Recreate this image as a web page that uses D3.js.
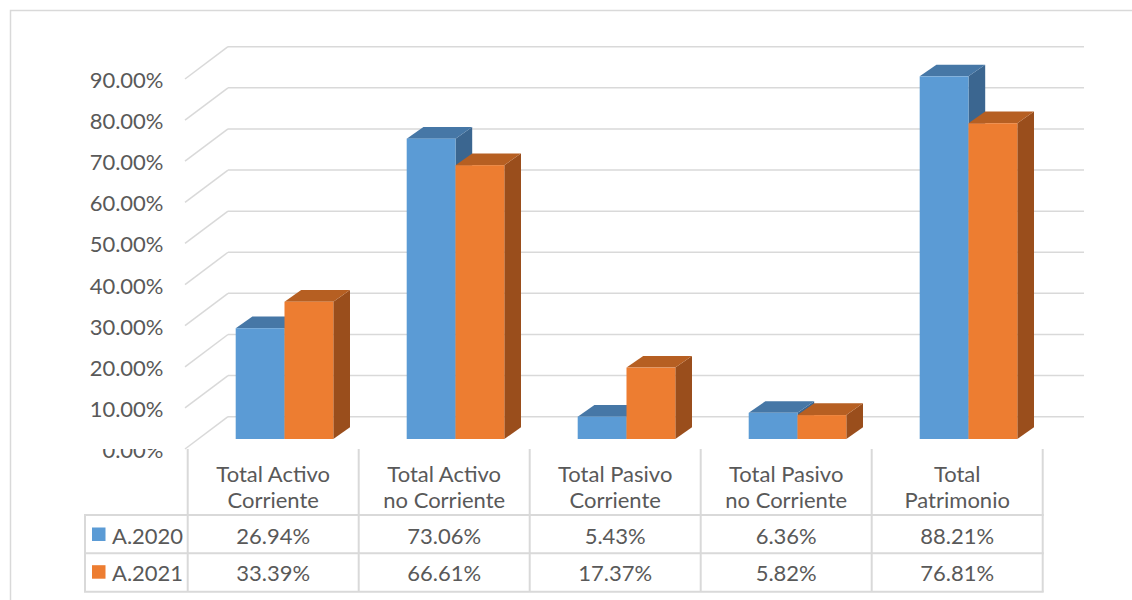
<!DOCTYPE html>
<html>
<head>
<meta charset="utf-8">
<script src="https://cdn.jsdelivr.net/npm/d3@7"></script>
<style>
  html, body { margin: 0; padding: 0; background: #ffffff; }
  svg { display: block; }
  text { font-family: Lato, "Open Sans", sans-serif; fill: #595959; }
</style>
</head>
<body>
<div id="chart"></div>
<script>
// Categories (two-line labels), series and values
const categories = [
  "Total Activo|Corriente",
  "Total Activo|no Corriente",
  "Total Pasivo|Corriente",
  "Total Pasivo|no Corriente",
  "Total|Patrimonio"
];
const seriesNames = ["A.2020", "A.2021"];
const values2020 = [26.94, 73.06, 5.43, 6.36, 88.21];
const values2021 = [33.39, 66.61, 17.37, 5.82, 76.81];
const yTickValues = [0, 10, 20, 30, 40, 50, 60, 70, 80, 90];

const seriesValues = [values2020, values2021];
const colors = {
  "A.2020": { front: "#5b9bd5", top: "#4677a6", side: "#3b6690" },
  "A.2021": { front: "#ed7d31", top: "#b65f22", side: "#9a4e1c" }
};

const W = 1132, H = 600;
const FONT = 22;
const svg = d3.select("#chart").append("svg")
  .attr("width", W).attr("height", H);

svg.append("rect").attr("width", W).attr("height", H).attr("fill", "#fff");
// outer chart frame
svg.append("rect")
  .attr("x", 10.5).attr("y", 10.5).attr("width", 1140).attr("height", 620)
  .attr("fill", "none").attr("stroke", "#d9d9d9").attr("stroke-width", 1.5);

// Oblique projection: front plane + depth vector
const depth = { dx: 43, dy: -32.3 };
const x = d3.scaleBand().domain(categories).range([187.7, 1042.7]).padding(0);
const y = d3.scaleLinear().domain([0, 90]).range([449, 79]);

const gridColor = "#d9d9d9";
const grid = svg.append("g").attr("fill", "none")
  .attr("stroke", gridColor).attr("stroke-width", 1.5);
const wallLeft = 185, wallRight = 1041;
yTickValues.forEach(v => {
  const yf = y(v);
  // side wall diagonal
  grid.append("line")
    .attr("x1", wallLeft).attr("y1", yf)
    .attr("x2", wallLeft + depth.dx).attr("y2", yf + depth.dy);
  // back wall line
  grid.append("line")
    .attr("x1", wallLeft + depth.dx).attr("y1", yf + depth.dy)
    .attr("x2", wallRight + depth.dx).attr("y2", yf + depth.dy);
});

// Y axis labels (the 0% label is cut by the floor edge)
const fmt = d => d.toFixed(2) + "%";
svg.append("clipPath").attr("id", "floorClip")
  .append("rect").attr("x", 0).attr("y", 449).attr("width", 200).attr("height", 151);
const yAxisG = svg.append("g");
yTickValues.forEach(v => {
  const t = yAxisG.append("text")
    .attr("x", 163.5).attr("y", y(v) + 0.5)
    .attr("text-anchor", "end").attr("dominant-baseline", "central")
    .attr("font-size", FONT).text(fmt(v));
  if (v === 0) t.attr("clip-path", "url(#floorClip)");
});

// 3D bars
const barOffset = { dx: 11.3, dy: -10 };
const barDepth = { dx: 16.7, dy: -11.7 };
const pairWidth = 97.6;
const bars = svg.append("g");
categories.forEach((c, i) => {
  const cx = x(c) + x.bandwidth() / 2 + barOffset.dx;
  const inner = d3.scaleBand().domain(seriesNames)
    .range([cx - pairWidth / 2, cx + pairWidth / 2]).padding(0);
  seriesNames.forEach((s, j) => {
    const v = seriesValues[j][i];
    const x0 = inner(s), w = inner.bandwidth();
    const yB = y(0) + barOffset.dy, yT = y(v) + barOffset.dy;
    const col = colors[s];
    const g = bars.append("g");
    g.append("polygon")
      .attr("points", [[x0 + w, yT], [x0 + w + barDepth.dx, yT + barDepth.dy],
        [x0 + w + barDepth.dx, yB + barDepth.dy], [x0 + w, yB]].map(p => p.join(",")).join(" "))
      .attr("fill", col.side);
    g.append("polygon")
      .attr("points", [[x0, yT], [x0 + barDepth.dx, yT + barDepth.dy],
        [x0 + w + barDepth.dx, yT + barDepth.dy], [x0 + w, yT]].map(p => p.join(",")).join(" "))
      .attr("fill", col.top);
    g.append("rect")
      .attr("x", x0).attr("y", yT).attr("width", w).attr("height", yB - yT)
      .attr("fill", col.front);
  });
});

// Data table
const tableTop = 449, headerBottom = 515, row1Bottom = 553.3, row2Bottom = 591.7;
const legendLeft = 85;
const table = svg.append("g");
const tl = table.append("g").attr("stroke", gridColor).attr("stroke-width", 2).attr("fill", "none");
const colEdges = categories.map(c => x(c)).concat([x.range()[1]]);
colEdges.forEach(xe => {
  tl.append("line").attr("x1", xe).attr("x2", xe).attr("y1", tableTop).attr("y2", row2Bottom);
});
tl.append("line").attr("x1", legendLeft).attr("x2", legendLeft).attr("y1", headerBottom).attr("y2", row2Bottom);
[headerBottom, row1Bottom, row2Bottom].forEach(yy => {
  tl.append("line").attr("x1", legendLeft - 1).attr("x2", x.range()[1] + 1).attr("y1", yy).attr("y2", yy);
});

// header labels
categories.forEach(c => {
  const lines = c.split("|");
  const cx = x(c) + x.bandwidth() / 2;
  lines.forEach((ln, k) => {
    table.append("text")
      .attr("x", cx).attr("y", 473 + k * 26)
      .attr("text-anchor", "middle").attr("dominant-baseline", "central")
      .attr("font-size", FONT).text(ln);
  });
});

// value rows with legend keys
const rowCenters = [535, 572.7];
seriesNames.forEach((s, j) => {
  const yc = rowCenters[j];
  table.append("rect")
    .attr("x", 92).attr("y", yc - 7.5).attr("width", 13.5).attr("height", 13.5)
    .attr("fill", colors[s].front);
  table.append("text")
    .attr("x", 112).attr("y", yc)
    .attr("dominant-baseline", "central").attr("font-size", FONT).text(s);
  categories.forEach((c, i) => {
    table.append("text")
      .attr("x", x(c) + x.bandwidth() / 2).attr("y", yc)
      .attr("text-anchor", "middle").attr("dominant-baseline", "central")
      .attr("font-size", FONT).text(fmt(seriesValues[j][i]));
  });
});
</script>
</body>
</html>
